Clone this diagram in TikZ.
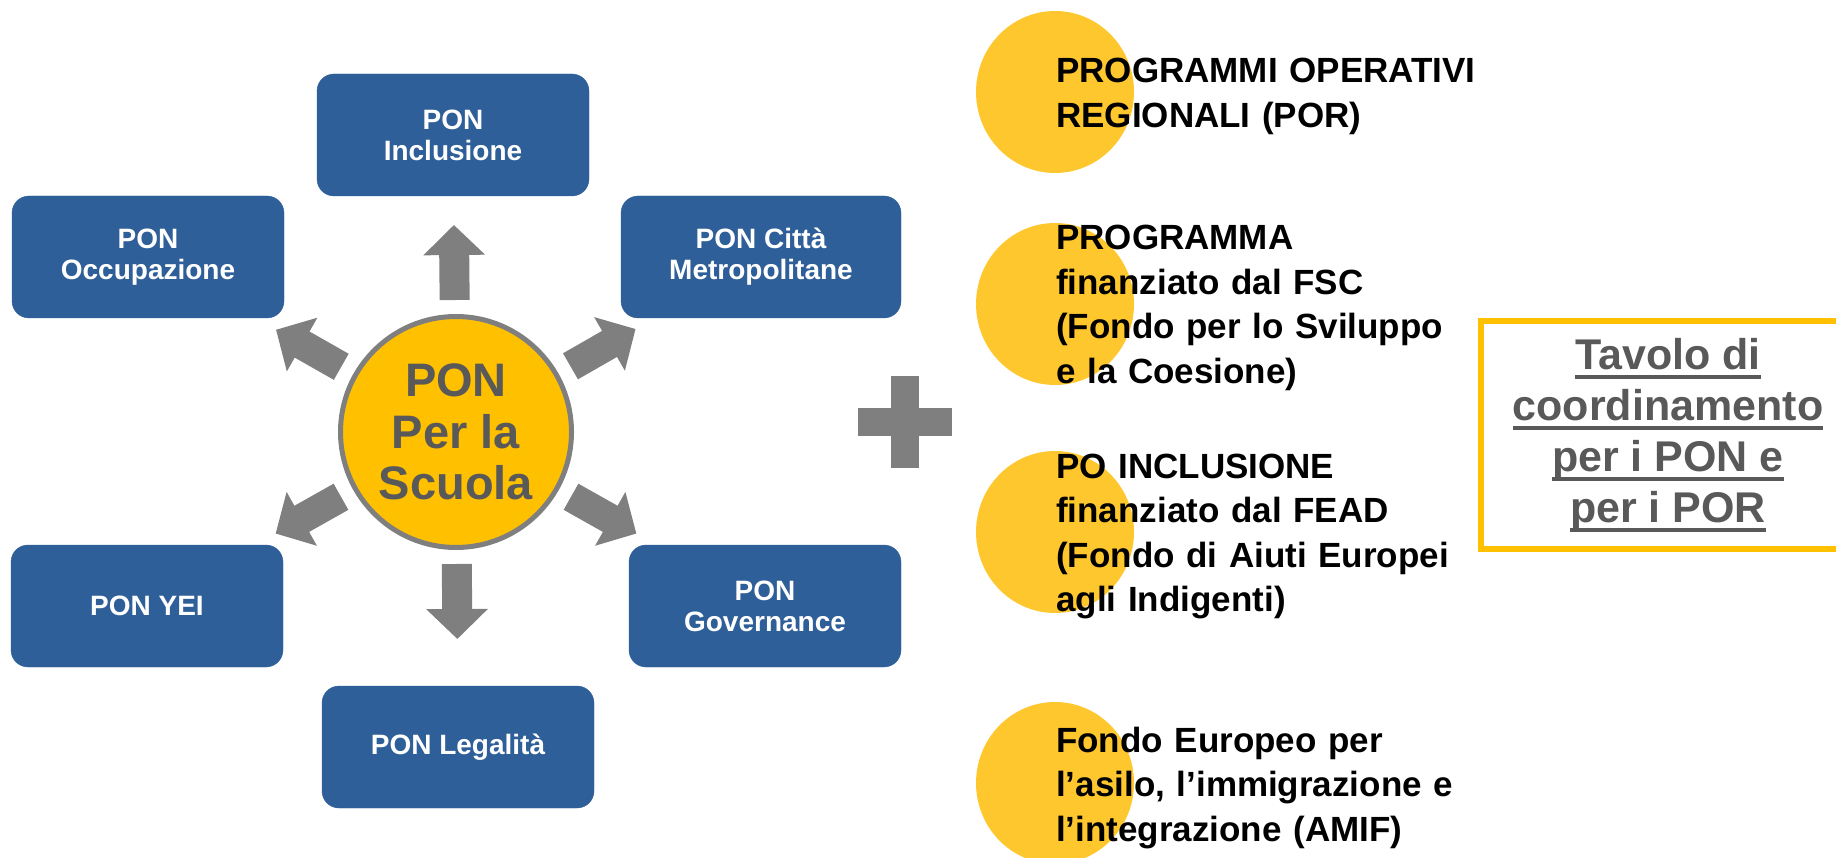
\documentclass[tikz,border=0pt]{standalone}
\usepackage{fontspec}
\setmainfont{Liberation Sans}
\usepackage{xcolor}
\usepackage{tikz}
\usetikzlibrary{arrows.meta}
\usetikzlibrary{calc}

\definecolor{ponblue}{HTML}{2F5F98}
\definecolor{ponyellow}{HTML}{FFC000}
\definecolor{spotyellow}{HTML}{FFC72E}
\definecolor{arrowgray}{HTML}{7F7F7F}
\definecolor{textgray}{HTML}{595959}

\newsavebox{\ulinebox}
\newcommand{\tavul}[1]{\sbox{\ulinebox}{#1}\rlap{\raisebox{-9pt}{\rule{\wd\ulinebox}{4pt}}}\usebox{\ulinebox}}

\begin{document}
\begin{tikzpicture}[x=1pt, y=-1pt,
	ponbox/.style={rectangle, rounded corners=17pt, fill=ponblue, draw=ponblue, minimum width=272pt, minimum height=122pt, text=white, align=center, font=\bfseries\fontsize{28}{31}\selectfont},
	bigarrow/.style={draw=arrowgray, line width=30pt, -{Triangle[width=60pt, length=30pt]}},
	listtext/.style={anchor=base west, inner sep=0pt, text width=480pt, align=left, font=\bfseries\fontsize{35}{44.5}\selectfont}]
	\useasboundingbox (0,0) rectangle (1836,858);

	\node[circle, fill=ponyellow, draw=arrowgray, line width=5pt, minimum size=231pt, inner sep=0pt, text=textgray, align=center, font=\bfseries\fontsize{47}{51.5}\selectfont] (pon) at (456,432) {PON\\Per la\\Scuola};

	\node[ponbox] (inc) at (453,135) {PON\\Inclusione};
	\node[ponbox] (occ) at (148,257) {PON\\Occupazione};
	\node[ponbox, minimum width=280pt] (cit) at (761,257) {PON Citt\`a\\Metropolitane};
	\node[ponbox] (yei) at (147,606) {PON YEI};
	\node[ponbox] (gov) at (765,606) {PON\\Governance};
	\node[ponbox] (leg) at (458,747) {PON Legalit\`a};

	\foreach \b in {inc,occ,cit,yei,gov,leg}
		\draw[bigarrow] ($(pon.center)!132pt!(\b.center)$) -- ($(pon.center)!207pt!(\b.center)$);

	% plus
	\fill[arrowgray] (891,376) rectangle (919,468);
	\fill[arrowgray] (858,408) rectangle (952,436);

	% yellow spots
	\fill[spotyellow] (1055,92) ellipse [x radius=79pt, y radius=81pt];
	\fill[spotyellow] (1055,304) ellipse [x radius=79pt, y radius=81pt];
	\fill[spotyellow] (1055,532) ellipse [x radius=79pt, y radius=81pt];
	\fill[spotyellow] (1055,783) ellipse [x radius=79pt, y radius=81pt];

	\node[listtext] (por) at (1056,83) {PROGRAMMI OPERATIVI\\REGIONALI (POR)};
	\node[listtext] (fsc) at (1056,250) {PROGRAMMA\\finanziato dal FSC\\(Fondo per lo Sviluppo\\e la Coesione)};
	\node[listtext] (fead) at (1056,478) {PO INCLUSIONE\\finanziato dal FEAD\\(Fondo di Aiuti Europei\\agli Indigenti)};
	\node[listtext] (amif) at (1056,752) {Fondo Europeo per\\l’asilo, l’immigrazione e\\l’integrazione (AMIF)};

	\node[draw=ponyellow, line width=6pt, minimum width=374pt, minimum height=227pt, text=textgray, align=center, font=\bfseries\fontsize{43}{51}\selectfont] (tavolo) at (1668,435) {\tavul{Tavolo di}\\\tavul{coordinamento}\\\tavul{per i PON e}\\\tavul{per i POR}};
\end{tikzpicture}
\end{document}
